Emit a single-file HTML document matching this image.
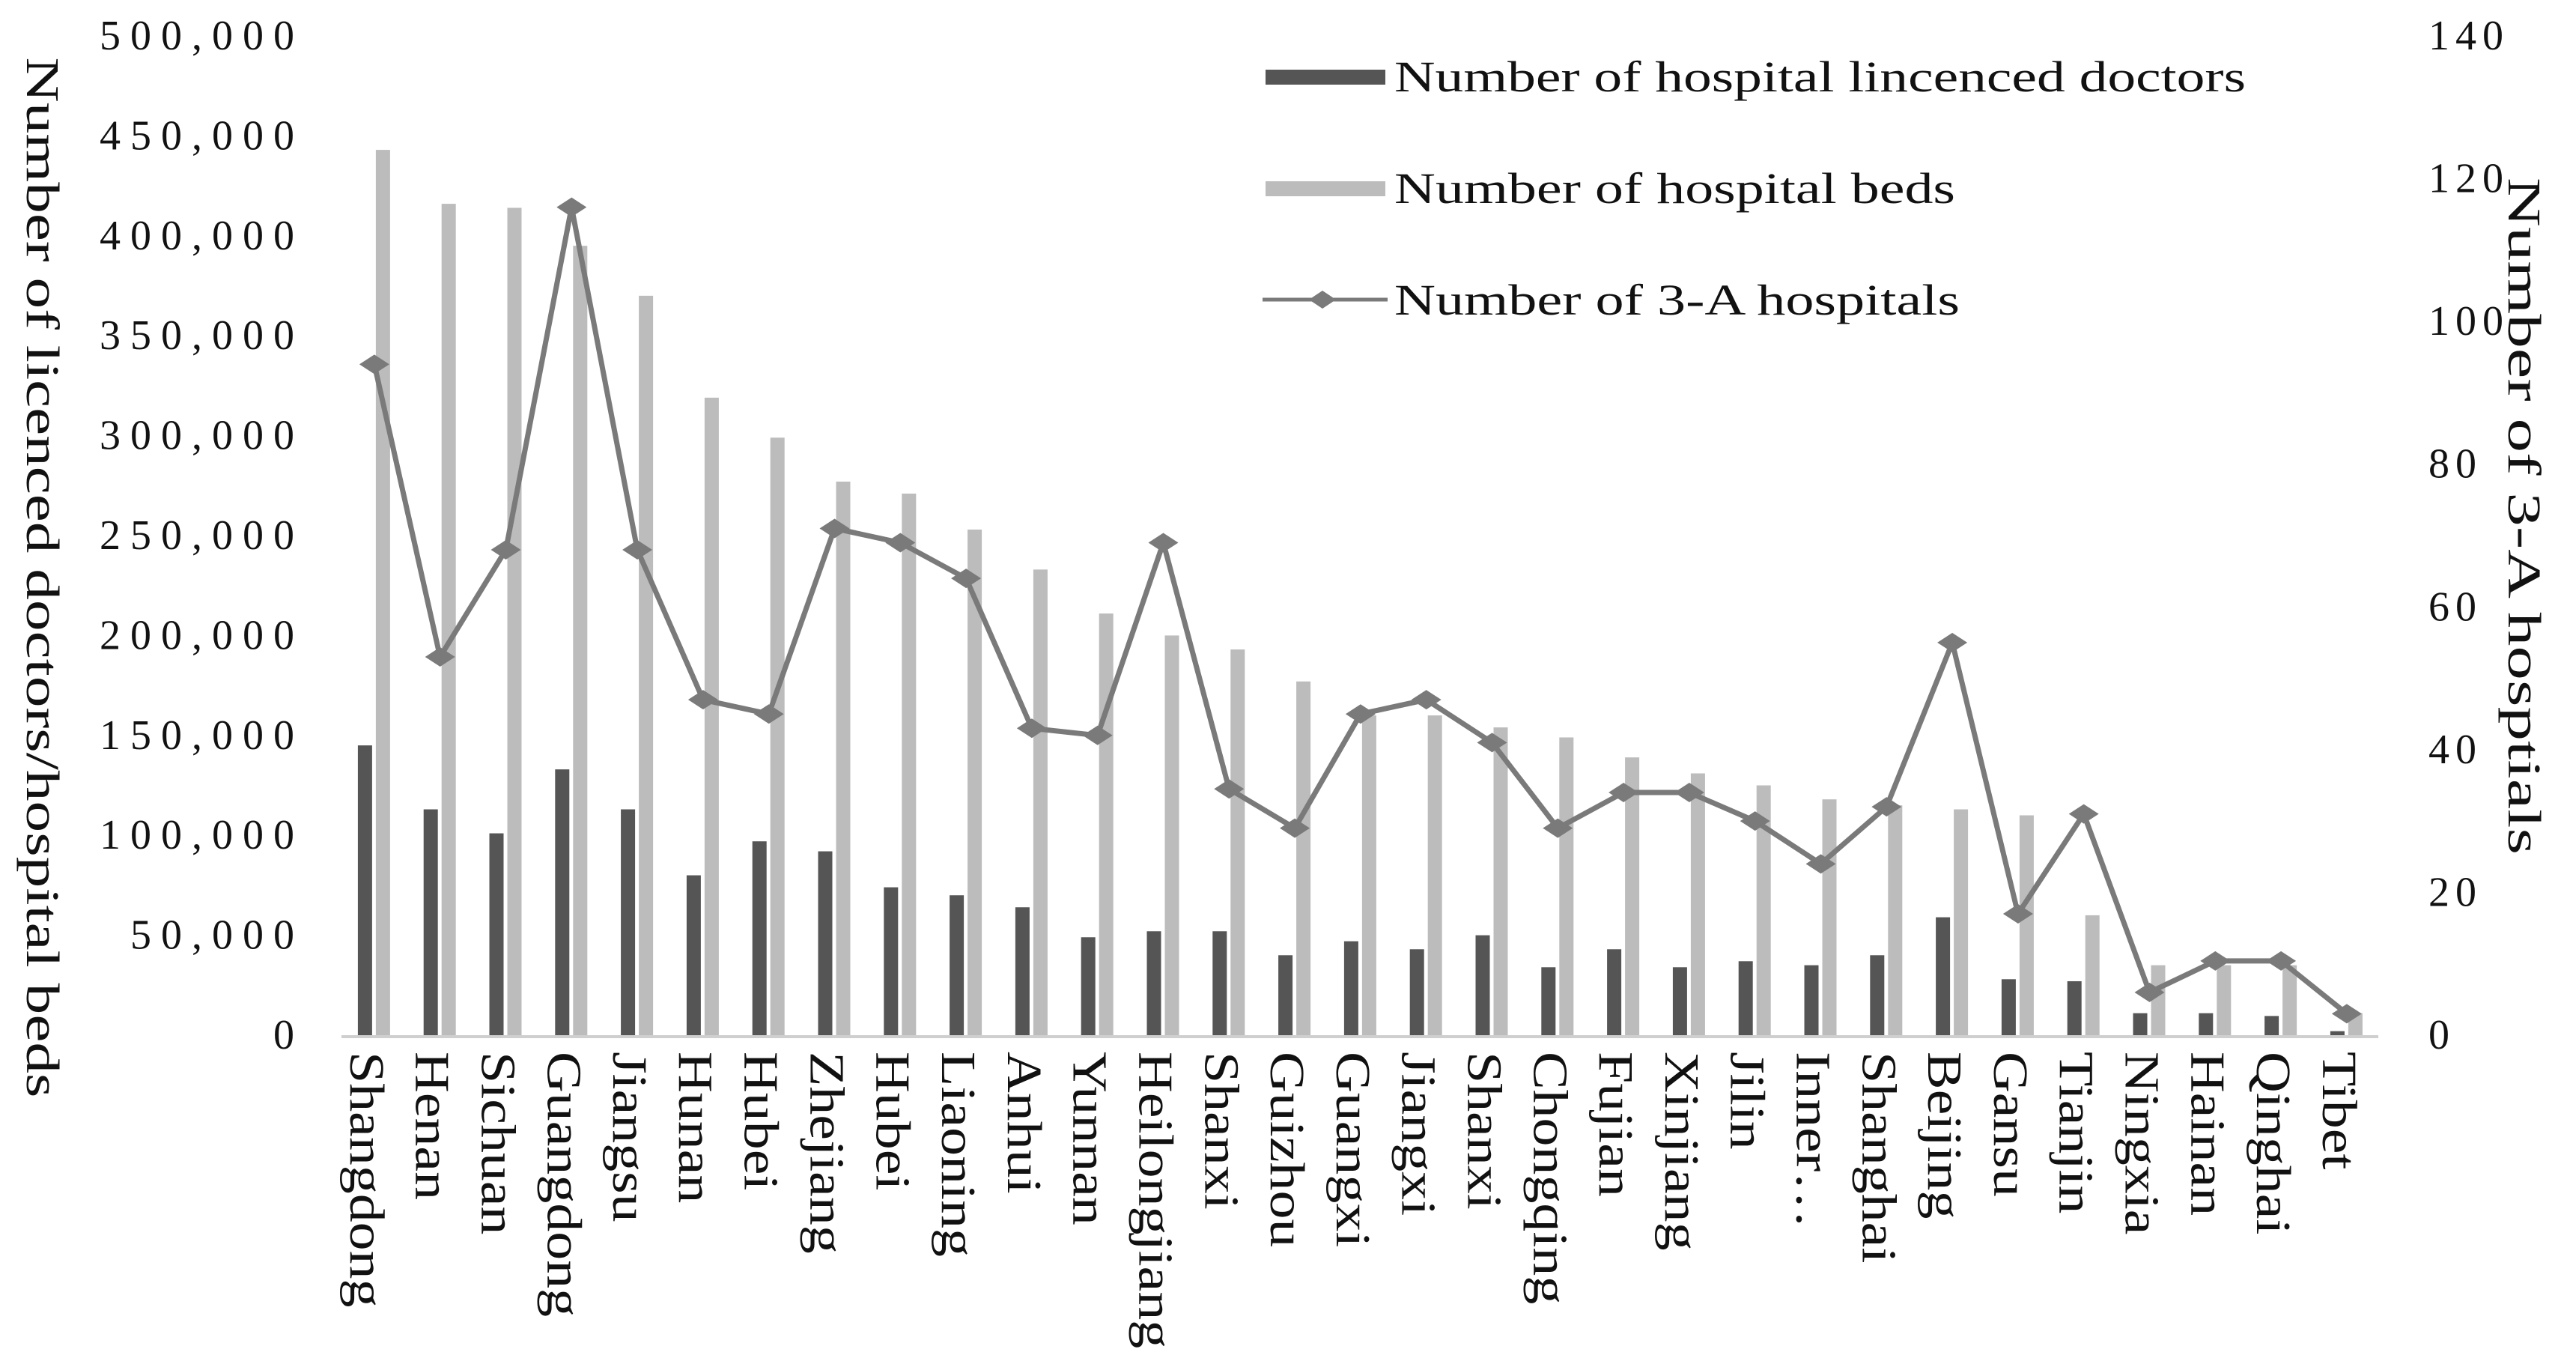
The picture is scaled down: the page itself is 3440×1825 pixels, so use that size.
<!DOCTYPE html>
<html><head><meta charset="utf-8"><style>
html,body{margin:0;padding:0;background:#fff;}
svg{display:block;}
text{font-family:"Liberation Serif",serif;fill:#111;}
</style></head><body>
<svg id="chart" width="3440" height="1825" viewBox="0 0 3440 1825" xmlns="http://www.w3.org/2000/svg"></svg>
<script>
const categories=["Shangdong","Henan","Sichuan","Guangdong","Jiangsu","Hunan","Hubei","Zhejiang","Hubei","Liaoning","Anhui","Yunnan","Heilongjiang","Shanxi","Guizhou","Guangxi","Jiangxi","Shanxi","Chongqing","Fujian","Xinjiang","Jilin","Inner…","Shanghai","Beijing","Gansu","Tianjin","Ningxia","Hainan","Qinghai","Tibet"];
const doctors=[145000,113000,101000,133000,113000,80000,97000,92000,74000,70000,64000,49000,52000,52000,40000,47000,43000,50000,34000,43000,34000,37000,35000,40000,59000,28000,27000,11000,11000,9600,2000];
const beds=[443000,416000,414000,395000,370000,319000,299000,277000,271000,253000,233000,211000,200000,193000,177000,160000,160000,154000,149000,139000,131000,125000,118000,115000,113000,110000,60000,35000,35000,35000,11000];
const hospitals3A=[94,53,68,116,68,47,45,71,69,64,43,42,69,34.5,29,45,47,41,29,34,34,30,24,32,55,17,31,6,10.4,10.4,3];
const leftTicks=[0,50000,100000,150000,200000,250000,300000,350000,400000,450000,500000];
const rightTicks=[0,20,40,60,80,100,120,140];

const svg=document.getElementById('chart');
const NS='http://www.w3.org/2000/svg';
const y0=1382,yTop=48,x0=456,step=87.8;
function yL(v){return y0-(v/500000)*(y0-yTop);}
function yR(v){return y0-(v/140)*(y0-yTop);}
function xC(i){return x0+step*(i+0.5);}
function mk(tag,attrs,parent){const e=document.createElementNS(NS,tag);for(const k in attrs)e.setAttribute(k,attrs[k]);(parent||svg).appendChild(e);return e;}

leftTicks.forEach(t=>{
  const e=mk('text',{x:406,y:yL(t)+18,'text-anchor':'end','font-size':56,'letter-spacing':13});
  
  
  e.textContent=t===0?'0':t.toLocaleString('en-US');
});
rightTicks.forEach(t=>{
  const e=mk('text',{x:3243,y:yR(t)+18,'text-anchor':'start','font-size':56,'letter-spacing':8});
  
  
  e.textContent=String(t);
});
let t1=mk('text',{x:0,y:0,'font-size':62,textLength:1389,lengthAdjust:'spacingAndGlyphs','text-anchor':'middle',transform:'translate(36,771) rotate(90)'});


t1.textContent='Number of licenced doctors/hospital beds';
let t2=mk('text',{x:0,y:0,'font-size':62,textLength:904,lengthAdjust:'spacingAndGlyphs','text-anchor':'middle',transform:'translate(3350,689) rotate(90)'});


t2.textContent='Number of 3-A hosptials';

categories.forEach((c,i)=>{
  const cx=xC(i);
  const d=mk('rect',{x:cx-22,y:yL(doctors[i]),width:19,height:y0-yL(doctors[i]),fill:'#555'});
  
  
  const b=mk('rect',{x:cx+2,y:yL(beds[i]),width:19,height:y0-yL(beds[i]),fill:'#bcbcbc'});
  
  
  const lab=mk('text',{x:0,y:0,'font-size':66,transform:`translate(${cx-32},1404) rotate(90) scale(1.15,1)`});
  
  
  lab.textContent=c;
});
const ax=mk('line',{x1:x0,y1:y0+2,x2:3176,y2:y0+2,stroke:'#cfcfcf','stroke-width':4});


const pts=hospitals3A.map((v,i)=>xC(i)+','+yR(v)).join(' ');
const pl=mk('polyline',{points:pts,fill:'none',stroke:'#7a7a7a','stroke-width':7});


hospitals3A.forEach((v,i)=>{
  const x=xC(i),y=yR(v);
  const m=mk('polygon',{points:`${x-20},${y} ${x},${y-13} ${x+20},${y} ${x},${y+13}`,fill:'#7a7a7a'});
  
  
});

const lg=mk('g',{});


const s1=mk('rect',{x:1690,y:93,width:160,height:20,fill:'#555'},lg);


const s2=mk('rect',{x:1690,y:242,width:160,height:20,fill:'#bcbcbc'},lg);


const s3=mk('line',{x1:1686,y1:400,x2:1853,y2:400,stroke:'#7a7a7a','stroke-width':5},lg);


const s4=mk('polygon',{points:'1748,400 1766,388 1784,400 1766,412',fill:'#7a7a7a'},lg);


const L=[['Number of hospital lincenced doctors',122,1137],['Number of hospital beds',271,749],['Number of 3-A hospitals',420,755]];
L.forEach(r=>{
  const e=mk('text',{x:1862,y:r[1],'font-size':58,textLength:r[2],lengthAdjust:'spacingAndGlyphs'},lg);
  
  
  e.textContent=r[0];
});
</script>
</body></html>
